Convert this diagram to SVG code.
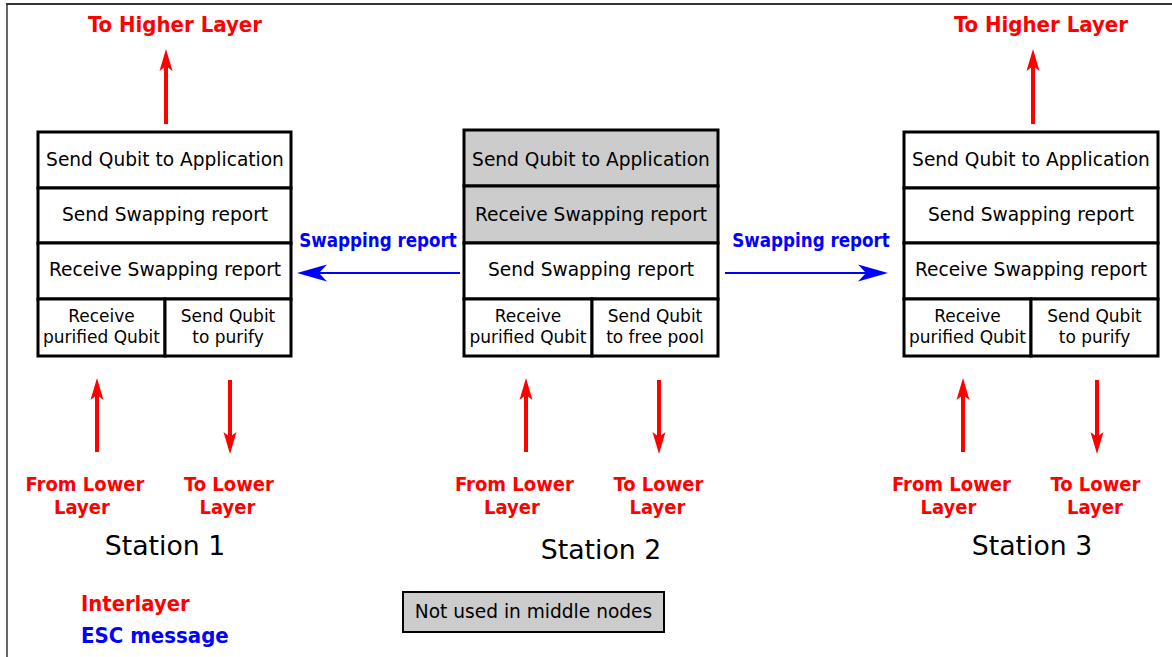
<svg xmlns="http://www.w3.org/2000/svg" width="1172" height="657" viewBox="0 0 1172 657">
<style>
.cell{fill:#ffffff;stroke:#000000;stroke-width:3}
.gray{fill:#cccccc}
.t{font-family:"DejaVu Sans","Liberation Sans",sans-serif;font-size:18.6px;fill:#000000;text-anchor:middle}
.ts{font-family:"DejaVu Sans","Liberation Sans",sans-serif;font-size:17px;fill:#000000;text-anchor:middle}
.st{font-family:"DejaVu Sans","Liberation Sans",sans-serif;font-size:26.7px;fill:#000000;text-anchor:middle}
.rb{font-family:"DejaVu Sans Condensed","DejaVu Sans","Liberation Sans",sans-serif;font-stretch:condensed;font-weight:bold;fill:#ff0000;text-anchor:middle}
.bb{font-family:"DejaVu Sans Condensed","DejaVu Sans","Liberation Sans",sans-serif;font-stretch:condensed;font-weight:bold;fill:#0000ff;text-anchor:middle}
.red{stroke:#ff0000;stroke-width:4;fill:none;marker-end:url(#ar)}
.blue{stroke:#0000ff;stroke-width:2;fill:none;marker-end:url(#ab)}
</style>
<defs>
<marker id="ar" markerUnits="userSpaceOnUse" viewBox="-23 -7 24 14" markerWidth="24" markerHeight="14" refX="-15" refY="0" orient="auto">
<path d="M0,0 L-22,-6.5 L-17,0 L-22,6.5 Z" fill="#ff0000"/>
</marker>
<marker id="ab" markerUnits="userSpaceOnUse" viewBox="-31 -10 32 20" markerWidth="32" markerHeight="20" refX="-21" refY="0" orient="auto">
<path d="M0,0 L-30,-8.5 L-22,0 L-30,8.5 Z" fill="#0000ff"/>
</marker>
</defs>
<rect x="0" y="0" width="1172" height="657" fill="#ffffff"/>
<g id="frame">
<line x1="7" y1="4" x2="7" y2="657" stroke="#666666" stroke-width="2"/>
<line x1="6" y1="4" x2="1172" y2="4" stroke="#333333" stroke-width="2"/>
</g>
<g id="connectors">
<line class="red" x1="166" y1="124" x2="166" y2="64"/>
<line class="red" x1="1033" y1="124" x2="1033" y2="64"/>
<line class="red" x1="97" y1="452" x2="97" y2="393"/>
<line class="red" x1="230" y1="380" x2="230" y2="439"/>
<line class="red" x1="526" y1="452" x2="526" y2="393"/>
<line class="red" x1="659" y1="380" x2="659" y2="439"/>
<line class="red" x1="963" y1="452" x2="963" y2="393"/>
<line class="red" x1="1097" y1="380" x2="1097" y2="439"/>
<line class="blue" x1="460" y1="273" x2="318" y2="273"/>
<line class="blue" x1="725" y1="273" x2="867" y2="273"/>
</g>
<g id="station1">
<rect class="cell" x="38" y="132" width="253" height="56"/>
<rect class="cell" x="38" y="188" width="253" height="55"/>
<rect class="cell" x="38" y="243" width="253" height="56"/>
<rect class="cell" x="38" y="299" width="127" height="57"/>
<rect class="cell" x="165" y="299" width="126" height="57"/>
<text class="t" x="165" y="166">Send Qubit to Application</text>
<text class="t" x="165" y="221">Send Swapping report</text>
<text class="t" x="165" y="276">Receive Swapping report</text>
<text class="ts" x="101.5" y="322">Receive</text>
<text class="ts" x="101.5" y="343">purified Qubit</text>
<text class="ts" x="228" y="322">Send Qubit</text>
<text class="ts" x="228" y="343">to purify</text>
<text class="st" x="165" y="555">Station 1</text>
</g>
<g id="station2">
<rect class="cell gray" x="464" y="130" width="254" height="56"/>
<rect class="cell gray" x="464" y="186" width="254" height="57"/>
<rect class="cell" x="464" y="243" width="254" height="56"/>
<rect class="cell" x="464" y="299" width="128" height="57"/>
<rect class="cell" x="592" y="299" width="126" height="57"/>
<text class="t" x="591" y="166">Send Qubit to Application</text>
<text class="t" x="591" y="221">Receive Swapping report</text>
<text class="t" x="591" y="276">Send Swapping report</text>
<text class="ts" x="528" y="322">Receive</text>
<text class="ts" x="528" y="343">purified Qubit</text>
<text class="ts" x="655" y="322">Send Qubit</text>
<text class="ts" x="655" y="343">to free pool</text>
<text class="st" x="601" y="559">Station 2</text>
</g>
<g id="station3">
<rect class="cell" x="904" y="132" width="254" height="56"/>
<rect class="cell" x="904" y="188" width="254" height="55"/>
<rect class="cell" x="904" y="243" width="254" height="56"/>
<rect class="cell" x="904" y="299" width="127" height="57"/>
<rect class="cell" x="1031" y="299" width="127" height="57"/>
<text class="t" x="1031" y="166">Send Qubit to Application</text>
<text class="t" x="1031" y="221">Send Swapping report</text>
<text class="t" x="1031" y="276">Receive Swapping report</text>
<text class="ts" x="967.5" y="322">Receive</text>
<text class="ts" x="967.5" y="343">purified Qubit</text>
<text class="ts" x="1094.5" y="322">Send Qubit</text>
<text class="ts" x="1094.5" y="343">to purify</text>
<text class="st" x="1032" y="555">Station 3</text>
</g>
<g id="labels">
<text class="rb" x="175" y="32" font-size="22">To Higher Layer</text>
<text class="rb" x="1041" y="32" font-size="22">To Higher Layer</text>
<text class="rb" x="85" y="491" font-size="20">From Lower</text>
<text class="rb" x="82" y="514" font-size="20">Layer</text>
<text class="rb" x="229" y="491" font-size="20">To Lower</text>
<text class="rb" x="227.5" y="514" font-size="20">Layer</text>
<text class="rb" x="514.5" y="491" font-size="20">From Lower</text>
<text class="rb" x="512" y="514" font-size="20">Layer</text>
<text class="rb" x="658.5" y="491" font-size="20">To Lower</text>
<text class="rb" x="657.5" y="514" font-size="20">Layer</text>
<text class="rb" x="951.5" y="491" font-size="20">From Lower</text>
<text class="rb" x="948.5" y="514" font-size="20">Layer</text>
<text class="rb" x="1095.5" y="491" font-size="20">To Lower</text>
<text class="rb" x="1095" y="514" font-size="20">Layer</text>
<text class="bb" x="378" y="247" font-size="18.6">Swapping report</text>
<text class="bb" x="811" y="247" font-size="18.6">Swapping report</text>
</g>
<g id="legend">
<text class="rb" x="81" y="611" font-size="21.8" style="text-anchor:start">Interlayer</text>
<text class="bb" x="81" y="643" font-size="22" style="text-anchor:start">ESC message</text>
</g>
<g id="note">
<rect x="403" y="592" width="261" height="40" fill="#cccccc" stroke="#000000" stroke-width="2"/>
<text class="t" x="533.5" y="618">Not used in middle nodes</text>
</g>
</svg>
